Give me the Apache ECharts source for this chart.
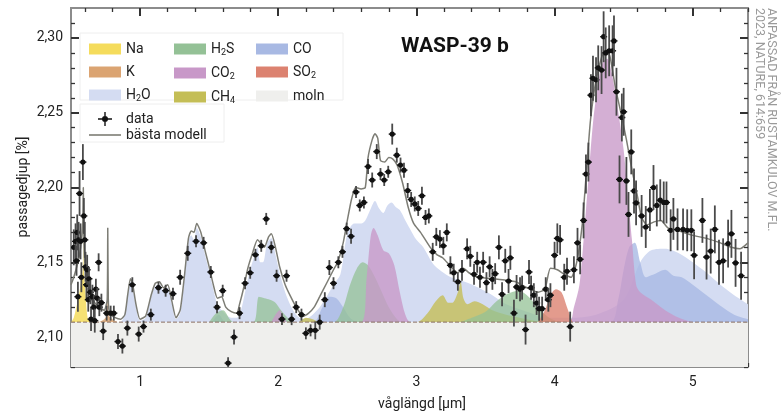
<!DOCTYPE html>
<html>
<head>
<meta charset="utf-8">
<script src="https://cdn.jsdelivr.net/npm/echarts@6/dist/echarts.min.js"></script>
<style>
  html, body { margin: 0; padding: 0; background: #fff; }
  #chart { width: 781px; height: 414px; }
</style>
</head>
<body>
<div id="chart"></div>
<script>
// ---- data ----
var xMajor = [1, 2, 3, 4, 5];
var xMinor = [0.6, 0.8, 1.2, 1.4, 1.6, 1.8, 2.2, 2.4, 2.6, 2.8, 3.2, 3.4, 3.6, 3.8, 4.2, 4.4, 4.6, 4.8, 5.2, 5.4];
var yMajor = [2.10, 2.15, 2.20, 2.25, 2.30];
var yMinor = [2.08, 2.09, 2.11, 2.12, 2.13, 2.14, 2.16, 2.17, 2.18, 2.19, 2.21, 2.22, 2.23, 2.24, 2.26, 2.27, 2.28, 2.29, 2.31];
var cloudTop = 2.11;

// observations: [wavelength, depth, error]
var obs = [
  [0.52, 2.160, 0.012], [0.533, 2.164, 0.012], [0.54, 2.151, 0.010], [0.545, 2.170, 0.012],
  [0.55, 2.127, 0.010], [0.555, 2.165, 0.012], [0.562, 2.196, 0.015], [0.569, 2.164, 0.012],
  [0.575, 2.140, 0.010], [0.586, 2.217, 0.012], [0.593, 2.181, 0.012], [0.60, 2.165, 0.012],
  [0.605, 2.147, 0.010], [0.612, 2.135, 0.010], [0.617, 2.145, 0.010], [0.625, 2.125, 0.008],
  [0.63, 2.139, 0.008], [0.64, 2.130, 0.008], [0.645, 2.112, 0.008], [0.655, 2.127, 0.008],
  [0.665, 2.120, 0.008], [0.672, 2.111, 0.008], [0.68, 2.132, 0.007], [0.69, 2.126, 0.007],
  [0.70, 2.150, 0.006], [0.705, 2.120, 0.006], [0.72, 2.123, 0.006], [0.733, 2.104, 0.006],
  [0.758, 2.116, 0.005], [0.787, 2.116, 0.005], [0.81, 2.116, 0.005], [0.84, 2.097, 0.005],
  [0.872, 2.094, 0.005], [0.908, 2.106, 0.005], [0.944, 2.135, 0.005], [0.99, 2.102, 0.005],
  [1.025, 2.107, 0.004], [1.078, 2.115, 0.004], [1.133, 2.133, 0.004], [1.185, 2.131, 0.004],
  [1.238, 2.129, 0.004], [1.29, 2.140, 0.005], [1.345, 2.156, 0.005], [1.405, 2.164, 0.004],
  [1.46, 2.163, 0.004], [1.512, 2.1435, 0.004], [1.557, 2.120, 0.004], [1.598, 2.131, 0.004],
  [1.637, 2.0826, 0.004], [1.68, 2.100, 0.005], [1.72, 2.116, 0.004], [1.76, 2.136, 0.004],
  [1.797, 2.143, 0.004], [1.835, 2.155, 0.004], [1.877, 2.161, 0.004], [1.913, 2.179, 0.004],
  [1.95, 2.160, 0.004], [1.988, 2.141, 0.004], [2.027, 2.112, 0.004], [2.06, 2.141, 0.004],
  [2.097, 2.112, 0.004], [2.13, 2.120, 0.004], [2.168, 2.115, 0.004], [2.20, 2.1025, 0.004],
  [2.234, 2.1045, 0.004], [2.268, 2.1045, 0.006], [2.30, 2.110, 0.005], [2.337, 2.125, 0.005],
  [2.37, 2.1465, 0.005], [2.40, 2.136, 0.004], [2.435, 2.150, 0.004], [2.465, 2.157, 0.004],
  [2.495, 2.1725, 0.004], [2.527, 2.1674, 0.005], [2.563, 2.197, 0.004], [2.59, 2.188, 0.004],
  [2.62, 2.190, 0.004], [2.65, 2.214, 0.005], [2.68, 2.205, 0.005], [2.713, 2.224, 0.005],
  [2.74, 2.209, 0.004], [2.767, 2.205, 0.004], [2.796, 2.2105, 0.004], [2.825, 2.2357, 0.007],
  [2.858, 2.2216, 0.005], [2.885, 2.215, 0.005], [2.91, 2.2116, 0.005], [2.937, 2.198, 0.005],
  [2.962, 2.192, 0.005], [2.988, 2.189, 0.005], [3.013, 2.186, 0.005], [3.04, 2.1945, 0.006],
  [3.066, 2.180, 0.005], [3.09, 2.181, 0.005], [3.118, 2.157, 0.006], [3.144, 2.167, 0.006],
  [3.17, 2.1655, 0.006], [3.195, 2.161, 0.006], [3.22, 2.170, 0.006], [3.246, 2.148, 0.006],
  [3.27, 2.143, 0.006], [3.30, 2.137, 0.006], [3.33, 2.1446, 0.007], [3.367, 2.159, 0.007],
  [3.39, 2.154, 0.007], [3.417, 2.142, 0.007], [3.44, 2.150, 0.007], [3.46, 2.140, 0.007],
  [3.483, 2.150, 0.007], [3.507, 2.1364, 0.007], [3.53, 2.147, 0.007], [3.55, 2.1386, 0.007],
  [3.57, 2.1424, 0.007], [3.597, 2.160, 0.008], [3.62, 2.1286, 0.008], [3.643, 2.151, 0.008],
  [3.667, 2.1375, 0.008], [3.68, 2.153, 0.008], [3.706, 2.116, 0.009], [3.725, 2.1335, 0.008],
  [3.75, 2.132, 0.008], [3.765, 2.133, 0.008], [3.79, 2.105, 0.010], [3.815, 2.1435, 0.008],
  [3.83, 2.133, 0.008], [3.85, 2.128, 0.008], [3.87, 2.1228, 0.008], [3.888, 2.119, 0.008],
  [3.91, 2.119, 0.008], [3.936, 2.132, 0.008], [3.955, 2.125, 0.008], [3.97, 2.128, 0.008],
  [4.0, 2.1547, 0.009], [4.02, 2.166, 0.010], [4.04, 2.165, 0.010], [4.07, 2.140, 0.009],
  [4.09, 2.144, 0.009], [4.113, 2.107, 0.010], [4.14, 2.145, 0.009], [4.166, 2.163, 0.010],
  [4.185, 2.152, 0.010], [4.21, 2.178, 0.012], [4.227, 2.209, 0.013], [4.245, 2.217, 0.013],
  [4.263, 2.2617, 0.014], [4.278, 2.273, 0.015], [4.30, 2.272, 0.015], [4.316, 2.280, 0.015],
  [4.34, 2.2785, 0.016], [4.355, 2.3008, 0.017], [4.37, 2.290, 0.017], [4.395, 2.2914, 0.017],
  [4.42, 2.2914, 0.017], [4.43, 2.298, 0.017], [4.448, 2.264, 0.016], [4.47, 2.2054, 0.016],
  [4.487, 2.2468, 0.016], [4.50, 2.2506, 0.016], [4.52, 2.2044, 0.016], [4.535, 2.182, 0.015],
  [4.555, 2.2238, 0.015], [4.575, 2.1977, 0.015], [4.59, 2.1897, 0.015], [4.63, 2.181, 0.014],
  [4.66, 2.1736, 0.014], [4.69, 2.185, 0.014], [4.716, 2.200, 0.015], [4.74, 2.188, 0.014],
  [4.765, 2.1915, 0.014], [4.79, 2.190, 0.014], [4.81, 2.190, 0.014], [4.84, 2.1714, 0.014],
  [4.86, 2.179, 0.014], [4.89, 2.172, 0.014], [4.93, 2.172, 0.014], [4.96, 2.1714, 0.014],
  [4.99, 2.1714, 0.014], [5.01, 2.1547, 0.016], [5.07, 2.178, 0.015], [5.10, 2.1535, 0.015],
  [5.13, 2.1575, 0.015], [5.16, 2.172, 0.016], [5.19, 2.150, 0.015], [5.22, 2.151, 0.015],
  [5.256, 2.1625, 0.016], [5.28, 2.169, 0.016], [5.31, 2.1496, 0.016], [5.35, 2.141, 0.016]
];

// best-fit model
var model = [
  [0.50, 2.135], [0.52, 2.140], [0.55, 2.150], [0.57, 2.160], [0.585, 2.175], [0.589, 2.200],
  [0.593, 2.170], [0.60, 2.150], [0.63, 2.135], [0.66, 2.125], [0.70, 2.120], [0.74, 2.118],
  [0.762, 2.125], [0.766, 2.173], [0.770, 2.125], [0.78, 2.116], [0.82, 2.113], [0.86, 2.112],
  [0.89, 2.115], [0.91, 2.128], [0.93, 2.139], [0.945, 2.136], [0.97, 2.122], [1.00, 2.112],
  [1.04, 2.114], [1.08, 2.128], [1.11, 2.136], [1.14, 2.137], [1.17, 2.133], [1.20, 2.135],
  [1.23, 2.124], [1.26, 2.113], [1.29, 2.118], [1.32, 2.140], [1.35, 2.166], [1.37, 2.171],
  [1.39, 2.170], [1.41, 2.176], [1.44, 2.170], [1.47, 2.158], [1.50, 2.147], [1.53, 2.135],
  [1.56, 2.126], [1.59, 2.127], [1.62, 2.120], [1.66, 2.117], [1.70, 2.116], [1.72, 2.122],
  [1.75, 2.133], [1.78, 2.146], [1.81, 2.155], [1.85, 2.165], [1.88, 2.162], [1.90, 2.160],
  [1.93, 2.167], [1.95, 2.169], [1.98, 2.160], [2.01, 2.147], [2.05, 2.135], [2.09, 2.127],
  [2.13, 2.120], [2.18, 2.114], [2.22, 2.116], [2.26, 2.120], [2.30, 2.127], [2.35, 2.136],
  [2.40, 2.145], [2.43, 2.150], [2.47, 2.163], [2.50, 2.178], [2.53, 2.192], [2.56, 2.200],
  [2.60, 2.199], [2.63, 2.200], [2.65, 2.220], [2.68, 2.232], [2.70, 2.236], [2.72, 2.233],
  [2.74, 2.218], [2.77, 2.217], [2.80, 2.220], [2.83, 2.219], [2.86, 2.215], [2.90, 2.203],
  [2.94, 2.187], [2.98, 2.176], [3.03, 2.170], [3.10, 2.160], [3.15, 2.155], [3.19, 2.153],
  [3.25, 2.147], [3.30, 2.143], [3.34, 2.146], [3.38, 2.143], [3.45, 2.140], [3.55, 2.139],
  [3.65, 2.138], [3.72, 2.137], [3.80, 2.133], [3.88, 2.130], [3.93, 2.132], [3.97, 2.146],
  [4.02, 2.145], [4.07, 2.142], [4.12, 2.140], [4.16, 2.150], [4.20, 2.175], [4.23, 2.210],
  [4.26, 2.245], [4.30, 2.272], [4.34, 2.287], [4.37, 2.292], [4.40, 2.288], [4.44, 2.267],
  [4.48, 2.250], [4.52, 2.232], [4.56, 2.212], [4.60, 2.194], [4.63, 2.180], [4.67, 2.175],
  [4.72, 2.177], [4.77, 2.178], [4.82, 2.173], [4.90, 2.171], [5.00, 2.168], [5.10, 2.166],
  [5.20, 2.163], [5.28, 2.160], [5.34, 2.159], [5.40, 2.163]
];

// molecule contributions
var naCurve = [[0.50, 2.11], [0.52, 2.113], [0.55, 2.125], [0.57, 2.135], [0.585, 2.145], [0.589, 2.17],
  [0.593, 2.145], [0.605, 2.13], [0.62, 2.113], [0.64, 2.11]];
var kCurve = [[0.70, 2.11], [0.74, 2.112], [0.762, 2.115], [0.766, 2.172], [0.770, 2.115], [0.80, 2.112], [0.84, 2.11]];
var h2oCurve = [[0.50, 2.11], [0.85, 2.11], [0.88, 2.113], [0.91, 2.127], [0.93, 2.137], [0.945, 2.134],
  [0.97, 2.12], [1.00, 2.111], [1.04, 2.113], [1.08, 2.127], [1.11, 2.134], [1.14, 2.135], [1.17, 2.131],
  [1.20, 2.133], [1.23, 2.122], [1.26, 2.112], [1.29, 2.116], [1.32, 2.138], [1.35, 2.164], [1.37, 2.168],
  [1.39, 2.165], [1.41, 2.173], [1.44, 2.167], [1.47, 2.155], [1.50, 2.144], [1.53, 2.132], [1.56, 2.122],
  [1.60, 2.117], [1.66, 2.113], [1.70, 2.113], [1.73, 2.118], [1.76, 2.13], [1.79, 2.143], [1.82, 2.152],
  [1.85, 2.160], [1.87, 2.150], [1.89, 2.150], [1.92, 2.163], [1.95, 2.166], [1.98, 2.155], [2.01, 2.143],
  [2.05, 2.13], [2.09, 2.121], [2.13, 2.115], [2.18, 2.112], [2.22, 2.113], [2.26, 2.116], [2.30, 2.12],
  [2.35, 2.127], [2.40, 2.135], [2.45, 2.142], [2.50, 2.169], [2.55, 2.176], [2.60, 2.176], [2.63, 2.178],
  [2.67, 2.186], [2.70, 2.191], [2.73, 2.186], [2.76, 2.183], [2.79, 2.188], [2.82, 2.190], [2.85, 2.187],
  [2.88, 2.185], [2.92, 2.178], [2.95, 2.173], [3.00, 2.165], [3.05, 2.160], [3.12, 2.149], [3.18, 2.144],
  [3.25, 2.140], [3.35, 2.137], [3.45, 2.133], [3.55, 2.128], [3.65, 2.122], [3.80, 2.117], [3.95, 2.113],
  [4.10, 2.113], [4.30, 2.115], [4.50, 2.125], [4.62, 2.150], [4.70, 2.158], [4.80, 2.159], [4.90, 2.156],
  [5.00, 2.150], [5.10, 2.143], [5.20, 2.135], [5.30, 2.128], [5.40, 2.122]];
var h2sCurve = [[1.50, 2.11], [1.55, 2.116], [1.60, 2.118], [1.65, 2.112], [1.68, 2.11], [1.82, 2.11],
  [1.86, 2.127], [1.90, 2.126], [1.94, 2.125], [1.98, 2.123], [2.02, 2.118], [2.08, 2.112], [2.12, 2.11],
  [2.40, 2.11], [2.47, 2.12], [2.52, 2.135], [2.57, 2.146], [2.61, 2.150], [2.65, 2.148], [2.70, 2.140],
  [2.75, 2.13], [2.80, 2.12], [2.86, 2.112], [2.90, 2.11], [3.30, 2.11], [3.40, 2.113], [3.50, 2.117],
  [3.58, 2.124], [3.66, 2.129], [3.74, 2.131], [3.80, 2.128], [3.86, 2.122], [3.92, 2.116], [3.98, 2.112],
  [4.05, 2.11]];
var co2Curve = [[1.95, 2.11], [1.98, 2.115], [2.01, 2.118], [2.04, 2.113], [2.07, 2.11], [2.60, 2.11],
  [2.64, 2.14], [2.67, 2.168], [2.69, 2.173], [2.72, 2.168], [2.76, 2.158], [2.80, 2.156], [2.84, 2.148],
  [2.88, 2.13], [2.92, 2.115], [2.96, 2.11], [4.10, 2.11], [4.14, 2.12], [4.18, 2.135], [4.21, 2.165],
  [4.24, 2.20], [4.28, 2.245], [4.32, 2.272], [4.35, 2.284], [4.38, 2.286], [4.41, 2.278], [4.44, 2.263],
  [4.47, 2.245], [4.50, 2.225], [4.53, 2.195], [4.56, 2.165], [4.59, 2.135], [4.62, 2.13], [4.70, 2.125],
  [4.80, 2.118], [4.90, 2.113], [5.00, 2.11]];
var ch4Curve = [[2.15, 2.11], [2.20, 2.113], [2.25, 2.112], [2.30, 2.11], [3.00, 2.11], [3.08, 2.116],
  [3.14, 2.124], [3.19, 2.128], [3.23, 2.123], [3.26, 2.123], [3.30, 2.13], [3.32, 2.137], [3.34, 2.126],
  [3.37, 2.122], [3.42, 2.124], [3.48, 2.122], [3.55, 2.118], [3.65, 2.115], [3.80, 2.112], [3.90, 2.11]];
var coCurve = [[1.52, 2.11], [1.57, 2.115], [1.62, 2.11], [2.25, 2.11], [2.32, 2.12], [2.37, 2.127],
  [2.42, 2.126], [2.47, 2.12], [2.52, 2.113], [2.58, 2.11], [4.40, 2.11], [4.46, 2.125], [4.50, 2.145],
  [4.54, 2.160], [4.58, 2.163], [4.62, 2.150], [4.66, 2.140], [4.72, 2.142], [4.80, 2.145], [4.86, 2.141],
  [4.92, 2.140], [5.00, 2.135], [5.10, 2.128], [5.20, 2.121], [5.30, 2.115], [5.40, 2.112]];
var so2Curve = [[3.88, 2.11], [3.93, 2.118], [3.97, 2.128], [4.01, 2.132], [4.05, 2.13], [4.09, 2.12], [4.13, 2.11]];

var colors = {
  'Na': '#f5dc5c', 'K': '#dba472', 'H2O': '#d4dcf2', 'H2S': '#94c196', 'CO2': '#c898c8',
  'CH4': '#c4be56', 'CO': '#a8b9e3', 'SO2': '#dc8270', 'moln': '#efefed'
};
var labels = {
  'H2O': '{n|H}{s|2}{n|O}', 'H2S': '{n|H}{s|2}{n|S}', 'CO2': '{n|CO}{s|2}',
  'CH4': '{n|CH}{s|4}', 'SO2': '{n|SO}{s|2}'
};
var font = 'Roboto, "Liberation Sans", sans-serif';

var mychart = echarts.init(document.getElementById('chart'));

function areaSeries(name, curve, opacity) {
  return {
    name: name,
    type: 'line',
    xAxisIndex: 1,
    yAxisIndex: 1,
    data: curve,
    symbol: 'none',
    smooth: 0.3,
    lineStyle: { width: 0 },
    itemStyle: { color: colors[name] },
    areaStyle: { color: colors[name], opacity: opacity, origin: cloudTop },
    silent: true
  };
}

function renderErr(params, api) {
  var x = api.value(0), y = api.value(1), e = api.value(2);
  var c = api.coord([x, y]);
  var t = api.coord([x, y + e]);
  var b = api.coord([x, y - e]);
  return {
    type: 'group',
    children: [
      { type: 'line', shape: { x1: c[0], y1: t[1], x2: c[0], y2: b[1] }, style: { stroke: '#4a4a4a', lineWidth: 1.8 } },
      { type: 'line', shape: { x1: c[0] - 3.5, y1: c[1], x2: c[0] + 3.5, y2: c[1] }, style: { stroke: '#111', lineWidth: 1.4 } },
      { type: 'circle', shape: { cx: c[0], cy: c[1], r: 2.6 }, style: { fill: '#111' } }
    ]
  };
}

function xAx(pos, ticks, len, labelVals) {
  return {
    type: 'value', position: pos, min: 0.5, max: 5.4,
    axisLine: { show: true, lineStyle: { color: '#8c8c8c', width: 2 } },
    axisTick: { show: true, inside: true, length: len, customValues: ticks, lineStyle: { color: '#333', width: len > 5 ? 2 : 1.3 } },
    axisLabel: labelVals ? { show: true, customValues: labelVals, margin: 8, color: '#222', fontSize: 14, fontFamily: font } : { show: false },
    splitLine: { show: false }
  };
}
function yAx(pos, ticks, len, labelVals) {
  return {
    type: 'value', position: pos, min: 2.08, max: 2.32,
    axisLine: { show: true, lineStyle: { color: '#8c8c8c', width: 2 } },
    axisTick: { show: true, inside: true, length: len, customValues: ticks, lineStyle: { color: '#333', width: len > 5 ? 2 : 1.3 } },
    axisLabel: labelVals ? {
      show: true, customValues: labelVals, margin: 8, color: '#222', fontSize: 14, fontFamily: font,
      formatter: function (v) { return v.toFixed(2).replace('.', ','); }
    } : { show: false },
    splitLine: { show: false }
  };
}

function legendCol(left, names) {
  return {
    left: left, top: 37, orient: 'vertical', itemWidth: 32, itemHeight: 11, itemGap: 9,
    icon: 'rect', selectedMode: false,
    data: names.map(function (n) { return { name: n, itemStyle: { color: colors[n], opacity: 1 } }; }),
    formatter: function (n) { return labels[n] || '{n|' + n + '}'; },
    textStyle: {
      rich: {
        n: { fontSize: 14, fontFamily: font, color: '#222', lineHeight: 16 },
        s: { fontSize: 9, fontFamily: font, color: '#222', lineHeight: 16, verticalAlign: 'bottom' }
      }
    }
  };
}

var option = {
  animation: false,
  backgroundColor: '#fff',
  title: {
    text: 'WASP-39 b', left: 396, top: 31,
    textStyle: { fontSize: 21, fontWeight: 'bold', fontFamily: font, color: '#111' }
  },
  grid: { left: 71, right: 33, top: 8, bottom: 47 },
  xAxis: [
    xAx('bottom', xMinor, 4),
    xAx('bottom', xMajor, 8, xMajor),
    xAx('top', xMinor, 4),
    xAx('top', xMajor, 8)
  ],
  yAxis: [
    yAx('left', yMinor, 4),
    yAx('left', yMajor, 8, yMajor),
    yAx('right', yMinor, 4),
    yAx('right', yMajor, 8)
  ],
  legend: [
    legendCol(84, ['Na', 'K', 'H2O']),
    legendCol(169, ['H2S', 'CO2', 'CH4']),
    legendCol(251, ['CO', 'SO2', 'moln']),
    {
      left: 84, top: 107, orient: 'vertical', itemWidth: 32, itemHeight: 14, itemGap: 2,
      selectedMode: false,
      data: [
        { name: 'data', icon: 'path://M6.3,0h1.4v14h-1.4z M0,6.3h14v1.4h-14z M4,7a3,3 0 1,1 6,0a3,3 0 1,1 -6,0z', itemStyle: { color: '#111' } },
        { name: 'bästa modell', icon: 'path://M0,6.2h32v1.6h-32z', itemStyle: { color: '#7d7d75' } }
      ],
      textStyle: { fontSize: 14, fontFamily: font, color: '#222' }
    }
  ],
  graphic: [
    { type: 'rect', z: 3, shape: { x: 80, y: 33, width: 263, height: 67 }, style: { fill: '#fff', stroke: '#eeeeee', lineWidth: 1 } },
    { type: 'rect', z: 3, shape: { x: 80, y: 104, width: 144, height: 38 }, style: { fill: '#fff', stroke: '#eeeeee', lineWidth: 1 } },
    { type: 'text', z: 5, x: 23, y: 187, rotation: Math.PI / 2, style: { text: 'passagedjup [%]', font: '14px ' + font, fill: '#222', textAlign: 'center', textVerticalAlign: 'middle' } },
    { type: 'text', z: 5, x: 422, y: 404, style: { text: 'våglängd [µm]', font: '14px ' + font, fill: '#222', textAlign: 'center', textVerticalAlign: 'middle' } },
    { type: 'text', z: 5, x: 771, y: 8, rotation: -Math.PI / 2, style: { text: 'ANPASSAD FRÅN RUSTAMKULOV M.FL.', font: '12.5px ' + font, fill: '#9a9a9a', textAlign: 'left', textVerticalAlign: 'middle' } },
    { type: 'text', z: 5, x: 759, y: 8, rotation: -Math.PI / 2, style: { text: '2023, NATURE, 614:659', font: '12.5px ' + font, fill: '#9a9a9a', textAlign: 'left', textVerticalAlign: 'middle' } }
  ],
  series: [
    areaSeries('H2O', h2oCurve, 1),
    areaSeries('CO', coCurve, 0.8),
    areaSeries('CH4', ch4Curve, 0.8),
    areaSeries('H2S', h2sCurve, 0.75),
    areaSeries('CO2', co2Curve, 0.78),
    areaSeries('SO2', so2Curve, 0.8),
    areaSeries('K', kCurve, 0.85),
    areaSeries('Na', naCurve, 0.85),
    {
      name: 'moln', type: 'line', xAxisIndex: 1, yAxisIndex: 1, symbol: 'none', silent: true,
      data: [[0.5, cloudTop], [5.4, cloudTop]],
      lineStyle: { color: '#8a6e62', width: 1, type: [4, 2] },
      itemStyle: { color: colors['moln'] },
      areaStyle: { color: colors['moln'], opacity: 1, origin: 'start' }
    },
    {
      name: 'bästa modell', type: 'line', xAxisIndex: 1, yAxisIndex: 1, symbol: 'none', silent: true,
      data: model, smooth: 0.2,
      lineStyle: { color: '#7d7d75', width: 1.5 }
    },
    {
      name: 'data', type: 'custom', xAxisIndex: 1, yAxisIndex: 1, clip: true,
      renderItem: renderErr, data: obs, z: 4
    }
  ]
};
mychart.setOption(option);
</script>
</body>
</html>
